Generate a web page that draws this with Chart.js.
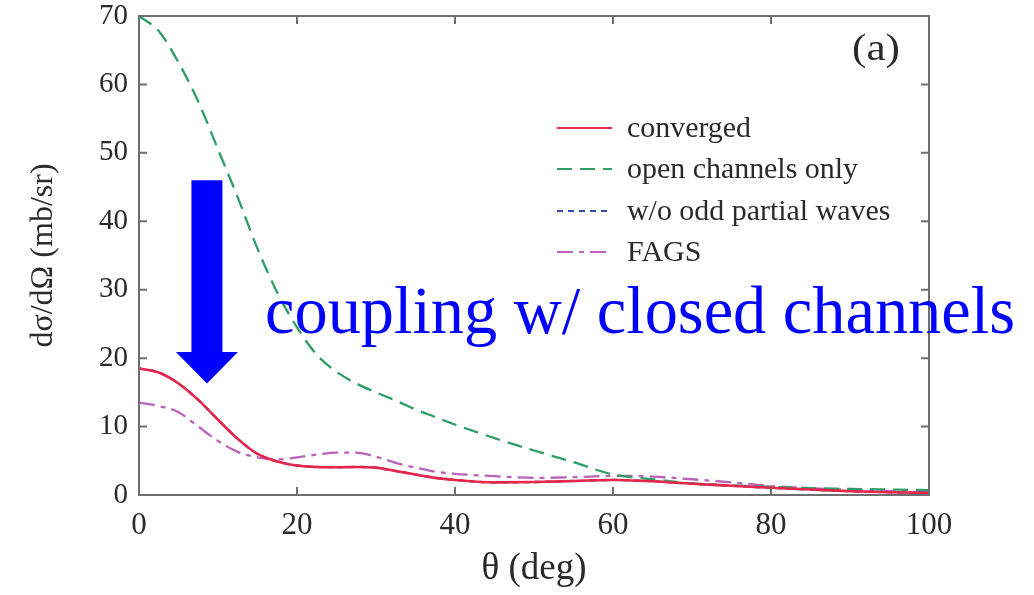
<!DOCTYPE html>
<html>
<head>
<meta charset="utf-8">
<script src="https://cdn.jsdelivr.net/npm/chart.js@4/dist/chart.umd.min.js"></script>
<style>
  html, body { margin: 0; padding: 0; background: #fff; }
  #wrap { width: 1034px; height: 595px; }
</style>
</head>
<body>
<div id="wrap"><canvas id="chart" width="1034" height="595"></canvas></div>
<script>
// ========================== DATA ==========================
const theta = [0, 2.5, 5, 7.5, 10, 12.5, 15, 17.5, 20, 22.5, 25, 27.5, 30, 32.5, 35, 37.5, 40, 45, 50, 55, 60, 65, 70, 75, 80, 85, 90, 95, 100];

const converged = [18.5, 17.9, 16.3, 13.9, 11.0, 8.2, 6.0, 4.9, 4.3, 4.1, 4.05, 4.1, 4.0, 3.5, 3.0, 2.5, 2.2, 1.85, 1.9, 2.05, 2.2, 2.0, 1.65, 1.35, 1.05, 0.8, 0.55, 0.4, 0.3];
const openOnly  = [70, 67.8, 63.2, 57.5, 50.5, 43.5, 36, 29.6, 24.5, 20.5, 18.0, 16.3, 15.0, 13.8, 12.5, 11.4, 10.3, 8.3, 6.5, 4.8, 3.0, 2.3, 1.7, 1.4, 1.2, 1.0, 0.9, 0.8, 0.7];
const noOdd     = [18.5, 17.9, 16.3, 13.9, 11.0, 8.2, 6.0, 4.9, 4.3, 4.1, 4.05, 4.1, 4.0, 3.5, 3.0, 2.5, 2.2, 1.85, 1.9, 2.05, 2.2, 2.0, 1.65, 1.35, 1.05, 0.8, 0.55, 0.4, 0.3];
const fags      = [13.5, 13.0, 12.1, 10.0, 7.9, 6.3, 5.5, 5.2, 5.5, 5.9, 6.2, 6.2, 5.6, 4.7, 4.0, 3.4, 3.1, 2.75, 2.5, 2.6, 2.8, 2.7, 2.3, 1.85, 1.3, 1.0, 0.75, 0.55, 0.4];

const xTicks = [0, 20, 40, 60, 80, 100];
const yTicks = [0, 10, 20, 30, 40, 50, 60, 70];

const seriesNames = ["converged", "open channels only", "w/o odd partial waves", "FAGS"];

// ========================== STYLE ==========================
const SERIF = "'Liberation Serif', 'DejaVu Serif', serif";
const INK = "#2a2a2a";
const AXIS = "#6e6e6e";

const styles = [
  { color: "#e8264c", dash: [] },          // converged
  { color: "#2e9e66", dash: [15, 8] },     // open channels only
  { color: "#3c48a6", dash: [6, 5] },      // w/o odd partial waves
  { color: "#b964b9", dash: [16, 6, 5, 6] } // FAGS
];

function pts(ys) {
  return theta.map((t, i) => ({ x: t, y: ys[i] }));
}

// text squeezed/stretched to a given width (the figure is a bit wider than tall)
function fitText(ctx, txt, x, y, width) {
  const w = ctx.measureText(txt).width;
  ctx.save();
  ctx.translate(x, y);
  ctx.scale(width / w, 1);
  ctx.fillText(txt, 0, 0);
  ctx.restore();
}

// ========================== PLUGIN: frame, ticks, legend, notes ==========================
const decor = {
  id: "decor",
  afterDraw(chart) {
    const { ctx, chartArea: a, scales } = chart;
    const xs = scales.x, ys = scales.y;
    ctx.save();

    // frame
    ctx.strokeStyle = AXIS;
    ctx.lineWidth = 2;
    ctx.setLineDash([]);
    ctx.strokeRect(a.left, a.top, a.right - a.left, a.bottom - a.top);

    // inward ticks on all four sides
    const tl = 8;
    ctx.beginPath();
    xTicks.forEach(v => {
      const px = xs.getPixelForValue(v);
      ctx.moveTo(px, a.bottom); ctx.lineTo(px, a.bottom - tl);
      ctx.moveTo(px, a.top); ctx.lineTo(px, a.top + tl);
    });
    yTicks.forEach(v => {
      const py = ys.getPixelForValue(v);
      ctx.moveTo(a.left, py); ctx.lineTo(a.left + tl, py);
      ctx.moveTo(a.right, py); ctx.lineTo(a.right - tl, py);
    });
    ctx.stroke();

    // legend
    ctx.font = "29px " + SERIF;
    ctx.textBaseline = "middle";
    ctx.fillStyle = INK;
    const rowY = [128, 169, 211, 252];
    const k = 231 / ctx.measureText(seriesNames[1]).width;
    seriesNames.forEach((name, i) => {
      ctx.strokeStyle = styles[i].color;
      ctx.lineWidth = 2.2;
      ctx.setLineDash(styles[i].dash);
      ctx.beginPath();
      ctx.moveTo(557, rowY[i]); ctx.lineTo(612, rowY[i]);
      ctx.stroke();
      fitText(ctx, name, 627, rowY[i] + 1, ctx.measureText(name).width * k);
    });
    ctx.setLineDash([]);

    // panel label
    ctx.font = "38px " + SERIF;
    ctx.textBaseline = "alphabetic";
    fitText(ctx, "(a)", 852, 60, 48);

    // arrow (anchored in data space)
    const cx = xs.getPixelForValue(8.6);
    const top = ys.getPixelForValue(46);
    const headTop = ys.getPixelForValue(20.9);
    const tip = ys.getPixelForValue(16.3);
    ctx.fillStyle = "#0000ff";
    ctx.beginPath();
    ctx.moveTo(cx - 15.5, top);
    ctx.lineTo(cx + 15.5, top);
    ctx.lineTo(cx + 15.5, headTop);
    ctx.lineTo(cx + 31, headTop);
    ctx.lineTo(cx, tip);
    ctx.lineTo(cx - 31, headTop);
    ctx.lineTo(cx - 15.5, headTop);
    ctx.closePath();
    ctx.fill();

    // big annotation text
    ctx.font = "68px " + SERIF;
    fitText(ctx, "coupling w/ closed channels", 265, 333, 750);

    ctx.restore();
  }
};

// ========================== CHART ==========================
// converged first so it is drawn on top of the identical dotted curve
const datasets = [converged, openOnly, noOdd, fags].map((arr, i) => ({
  label: seriesNames[i],
  data: pts(arr),
  borderColor: styles[i].color,
  borderDash: styles[i].dash,
  borderWidth: i === 0 ? 2.6 : 2.3,
  pointRadius: 0,
  fill: false,
  cubicInterpolationMode: "monotone"
}));

new Chart(document.getElementById("chart"), {
  type: "line",
  data: { datasets },
  plugins: [decor],
  options: {
    responsive: false,
    animation: false,
    layout: { padding: { top: 16, right: 105, left: 0, bottom: 0 } },
    plugins: { legend: { display: false }, tooltip: { enabled: false } },
    scales: {
      x: {
        type: "linear",
        min: 0, max: 100,
        afterBuildTicks: s => { s.ticks = xTicks.map(v => ({ value: v })); },
        afterFit: s => { s.height = 100; s.paddingLeft = 0; s.paddingRight = 0; },
        grid: { display: false },
        border: { display: false },
        ticks: { color: INK, font: { family: SERIF, size: 31 }, padding: 4 },
        title: { display: true, text: "θ (deg)", color: INK, font: { family: SERIF, size: 37 }, padding: { top: 0 } }
      },
      y: {
        type: "linear",
        min: 0, max: 70,
        afterBuildTicks: s => { s.ticks = yTicks.map(v => ({ value: v })); },
        afterFit: s => { s.width = 139; s.paddingTop = 0; s.paddingBottom = 0; },
        grid: { display: false },
        border: { display: false },
        ticks: { color: INK, font: { family: SERIF, size: 29 }, padding: 3 },
        title: { display: true, text: "dσ/dΩ (mb/sr)", color: INK, font: { family: SERIF, size: 32 }, padding: { top: 24, bottom: 0 } }
      }
    }
  }
});
</script>
</body>
</html>
